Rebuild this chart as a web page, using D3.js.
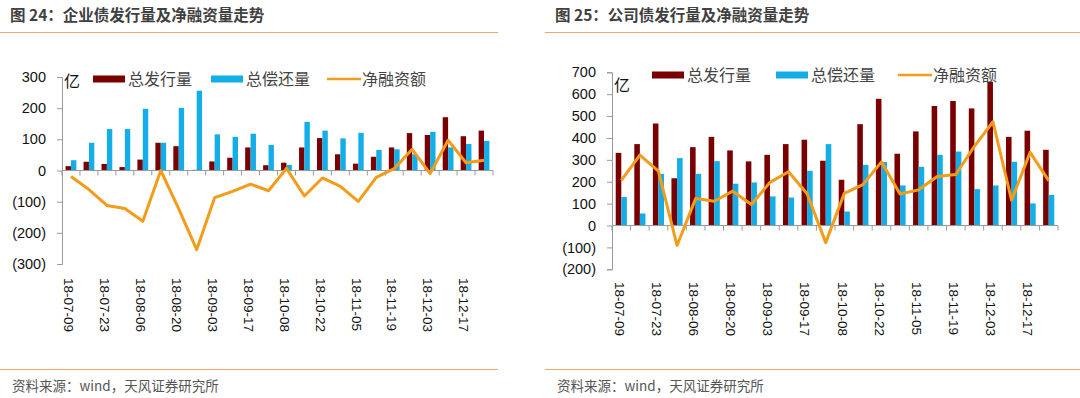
<!DOCTYPE html>
<html>
<head>
<meta charset="utf-8">
<script src="https://cdn.jsdelivr.net/npm/d3@7"></script>
<style>
  body { margin: 0; background: #fff; }
  svg { font-family: "Liberation Sans", "Noto Sans CJK SC", sans-serif; }
</style>
</head>
<body>
<script>
const weeks = ["18-07-09","18-07-16","18-07-23","18-07-30","18-08-06","18-08-13","18-08-20","18-08-27",
  "18-09-03","18-09-10","18-09-17","18-09-24","18-10-08","18-10-15","18-10-22","18-10-29",
  "18-11-05","18-11-12","18-11-19","18-11-26","18-12-03","18-12-10","18-12-17","18-12-24"];

// 企业债
const entIssue = [14, 28, 21, 11, 35, 89, 78, 2, 29, 41, 74, 17, 25, 74, 104, 52, 22, 44, 74, 120, 114, 171, 110, 128];
const entRepay = [33, 89, 133, 133, 198, 89, 201, 256, 116, 108, 118, 82, 18, 156, 128, 103, 121, 66, 68, 52, 124, 74, 85, 95];
const entNet = [-19, -61, -112, -122, -163, 0, -123, -254, -87, -67, -44, -65, 7, -82, -24, -51, -99, -22, 6, 68, -10, 97, 25, 33];
const entTicks = [300, 200, 100, 0, -100, -200, -300];

// 公司债
const corpIssue = [332, 372, 466, 216, 358, 405, 343, 293, 323, 372, 392, 296, 209, 463, 579, 328, 430, 546, 569, 535, 657, 405, 433, 346];
const corpRepay = [130, 55, 236, 308, 236, 294, 191, 197, 133, 128, 250, 372, 64, 277, 290, 183, 268, 323, 338, 166, 183, 291, 101, 140];
const corpNet = [206, 322, 248, -91, 123, 111, 157, 96, 197, 246, 145, -78, 147, 187, 291, 144, 163, 224, 233, 362, 474, 116, 334, 205];
const corpTicks = [700, 600, 500, 400, 300, 200, 100, 0, -100, -200];

const seriesNames = ["总发行量", "总偿还量", "净融资额"];
const colIssue = "#7a0000", colRepay = "#13aee8", colNet = "#f39c1a";

const svg = d3.select("body").append("svg").attr("width", 1080).attr("height", 398);

function fmt(v) {
  return v < 0 ? "(" + Math.abs(v) + ")" : String(v);
}

function drawChart(o) {
  const g = svg.append("g");
  // header + rules
  g.append("text").attr("x", o.left + 10).attr("y", 21)
    .attr("font-size", 15.5).attr("font-weight", 700).attr("fill", "#404040")
    .attr("font-family", "Noto Sans CJK SC")
    .text(o.title);
  g.append("line").attr("x1", o.left).attr("x2", o.right).attr("y1", 32.5).attr("y2", 32.5)
    .attr("stroke", "#f0a768").attr("stroke-width", 1.2);
  g.append("line").attr("x1", o.left).attr("x2", o.right).attr("y1", 369.5).attr("y2", 369.5)
    .attr("stroke", "#f0a768").attr("stroke-width", 1.2);
  g.append("text").attr("x", o.left + 12).attr("y", 391)
    .attr("font-size", 13.5).attr("fill", "#555").attr("font-family", "Noto Sans CJK SC")
    .text("资料来源：wind，天风证券研究所");

  const x = d3.scaleBand().domain(weeks).range([o.x0, o.x1]);
  const y = d3.scaleLinear().domain(o.domain).range([o.y0, o.y1]);
  const bw = x.bandwidth() * 0.3;

  // y axis
  const ya = g.append("g").attr("transform", `translate(${o.x0},0)`)
    .call(d3.axisLeft(y).tickValues(o.ticks).tickFormat(fmt).tickSize(5).tickPadding(11));
  ya.selectAll("text").attr("font-size", 14.5).attr("fill", "#111");
  ya.selectAll("line, path").attr("stroke", "#999");

  // bars
  g.selectAll(".bi").data(o.issue).enter().append("rect")
    .attr("x", (d, i) => x(weeks[i]) + x.bandwidth() / 2 - bw)
    .attr("y", d => y(Math.max(0, d)))
    .attr("width", bw).attr("height", d => Math.abs(y(d) - y(0)))
    .attr("fill", colIssue);
  g.selectAll(".br").data(o.repay).enter().append("rect")
    .attr("x", (d, i) => x(weeks[i]) + x.bandwidth() / 2)
    .attr("y", d => y(Math.max(0, d)))
    .attr("width", bw).attr("height", d => Math.abs(y(d) - y(0)))
    .attr("fill", colRepay);

  // x axis at zero
  const xa = g.append("g").attr("transform", `translate(0,${y(0)})`);
  xa.append("line").attr("x1", o.x0).attr("x2", o.x1).attr("stroke", "#999");
  xa.selectAll(".tk").data(d3.range(weeks.length + 1)).enter().append("line")
    .attr("x1", i => o.x0 + i * x.step()).attr("x2", i => o.x0 + i * x.step())
    .attr("y1", 0).attr("y2", 5).attr("stroke", "#999");

  // labels every two weeks
  g.selectAll(".xl").data(weeks.filter((d, i) => i % 2 === 0)).enter().append("text")
    .attr("transform", d => `translate(${x(d) + x.bandwidth() / 2 - 2},${o.labelY}) rotate(90)`)
    .attr("dy", "0.35em").attr("font-size", 13.5).attr("fill", "#111")
    .text(d => d);

  // net line
  const line = d3.line().x((d, i) => x(weeks[i]) + x.bandwidth() / 2).y(d => y(d));
  g.append("path").datum(o.net).attr("d", line).attr("fill", "none")
    .attr("stroke", colNet).attr("stroke-width", 3).attr("stroke-linejoin", "round");

  // unit + legend
  g.append("text").attr("x", o.x0 + 2).attr("y", o.unitY).attr("font-size", 16)
    .attr("font-family", "Noto Sans CJK SC").attr("fill", "#111").text("亿");
  const lg = g.append("g").attr("transform", `translate(${o.legendX},${o.legendY})`)
    .attr("font-family", "Noto Sans CJK SC").attr("font-size", 16).attr("fill", "#444");
  const lx = o.legendPos;
  lg.append("rect").attr("x", lx[0]).attr("y", -3.5).attr("width", 32).attr("height", 7).attr("fill", colIssue);
  lg.append("rect").attr("x", lx[1]).attr("y", -3.5).attr("width", 32).attr("height", 7).attr("fill", colRepay);
  lg.append("line").attr("x1", lx[2]).attr("x2", lx[2] + 34).attr("stroke", colNet).attr("stroke-width", 2.5);
  lg.selectAll(".lt").data(seriesNames).enter().append("text")
    .attr("x", (d, i) => lx[i] + 35).attr("dy", "0.35em").text(d => d);
}

drawChart({
  title: "图 24：企业债发行量及净融资量走势",
  left: 0, right: 498,
  x0: 62, x1: 493, y0: 264, y1: 77, domain: [-300, 300], ticks: entTicks,
  issue: entIssue, repay: entRepay, net: entNet,
  labelY: 278, legendX: 93, legendY: 79, legendPos: [0, 118, 234], unitY: 87
});
drawChart({
  title: "图 25：公司债发行量及净融资量走势",
  left: 545, right: 1080,
  x0: 612, x1: 1058, y0: 269.3, y1: 72.3, domain: [-200, 700], ticks: corpTicks,
  issue: corpIssue, repay: corpRepay, net: corpNet,
  labelY: 282, legendX: 652, legendY: 75, legendPos: [0, 124, 246], unitY: 91
});
</script>
</body>
</html>
